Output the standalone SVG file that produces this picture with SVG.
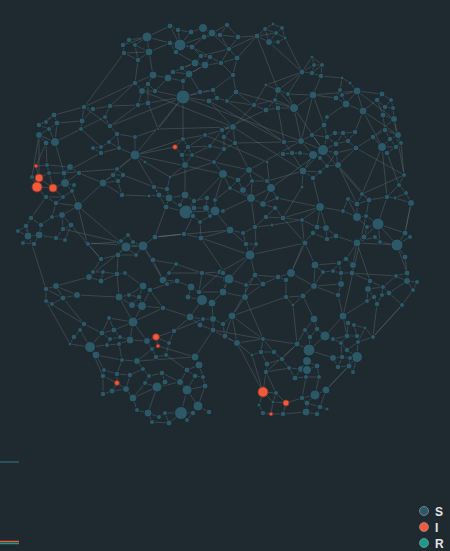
<svg xmlns="http://www.w3.org/2000/svg" width="450" height="551" viewBox="0 0 450 551">
<style>
.bg{fill:#1f2a30}
.e{fill:none;stroke:#6a757b;stroke-opacity:.55;stroke-width:.7}
.n circle{fill:#2d5868;stroke:#17232a;stroke-width:.8}
.n circle.i{fill:#f25a3b;stroke:#8c3526}
.lg{font-family:"Liberation Sans",Arial,sans-serif;font-size:12px;font-weight:bold;fill:#e6e6e6}
</style>
<rect class="bg" x="0" y="0" width="450" height="551"/>
<g id="connectors">
<path class="e" d="M147 37L149 52M147 37L123 45M147 37L129 40M147 37L135 45M149 52L124 53M149 52L138 60M149 52L135 45M123 45L129 40M123 45L124 53M124 53L138 60M135 45L129 40M138 60L135 45M147 37L170 43M149 52L170 43M149 52L153 75M138 60L135 83M147 37L170 26
M180 45L170 26M180 45L170 43M180 45L178 30M180 45L191 32M180 45L192 47M180 45L176 52M180 45L204 37M178 30L170 26M178 30L191 32M191 32L203 28M203 28L204 37M203 28L212 33M212 33L220 35M220 35L227 25M212 33L227 25M204 37L212 33M204 37L192 47M192 47L201 56M201 56L210 57M210 57L205 65M195 63L205 65M195 63L201 56M195 63L176 52M205 65L221 63M221 63L229 49M229 49L237 58M237 58L221 63M229 49L220 35M238 37L229 49M238 37L227 25M238 37L220 35M212 33L229 49M192 47L210 57M176 52L170 43M195 63L182 68M205 65L189 74M221 63L233 75M237 58L233 75M201 56L229 49M170 43L192 47M210 57L221 63M204 37L220 35
M257 36L265 29M257 36L269 42M265 29L273 24M265 29L276 33M273 24L282 28M276 33L282 28M282 28L285 38M276 33L269 42M269 42L278 42M278 42L285 38M276 33L285 38M265 29L269 42M257 36L276 33M238 37L257 36M237 58L257 36M269 42L302 72M257 36L229 49
M182 68L173 72M182 68L189 74M173 72L168 78M168 78L153 75M153 75L135 83M153 75L148 84M148 84L142 91M142 91L135 83M142 91L155 91M155 91L148 84M168 78L183 81M183 81L189 74M173 72L189 74M168 78L155 91M182 68L195 63M189 74L205 65M183 81L183 97M155 91L183 97M142 91L138 105M135 83L110 106M148 84L148 103
M183 97L200 92M183 97L209 101M183 97L213 90M200 92L213 90M209 101L217 98M213 90L217 98M217 98L227 101M227 101L236 92M236 92L233 75M213 90L233 75M200 92L189 74M236 92L253 105M227 101L253 105M209 101L233 127M183 97L148 103M183 97L135 155M183 97L158 129M183 97L183 139
M302 72L312 57M302 72L314 65M302 72L312 73M312 57L314 65M314 65L322 65M322 65L321 76M312 73L321 76M314 65L312 73M312 57L322 65M322 65L312 73M302 72L288 94M302 72L278 90M321 76L342 78M321 76L313 95M302 72L285 38M302 72L266 85
M266 85L278 90M278 90L288 94M288 94L313 95M278 90L275 100M275 100L294 108M294 108L288 94M294 108L278 108M278 108L266 110M266 110L254 105M254 105L275 100M266 85L254 105M313 95L294 108M278 90L294 108M275 100L266 110M278 108L275 100M294 108L301 141M313 95L301 141M313 95L336 98M294 108L323 150M254 105L233 127M266 110L222 130M278 108L284 142
M342 78L350 83M350 83L357 91M342 78L340 90M340 90L336 98M336 98L346 104M346 104L342 95M342 95L340 90M342 95L357 91M357 91L363 111M346 104L363 111M336 98L342 95M357 91L346 104M357 91L382 94M363 111L377 100M363 111L382 147M346 104L327 117M363 111L355 132M357 91L394 119
M382 94L377 100M382 94L391 100M377 100L385 107M391 100L393 108M385 107L393 108M385 107L383 115M383 115L394 119M393 108L394 119M391 100L385 107M377 100L383 115M394 119L404 175M394 119L398 135M383 115L385 130M394 119L373 137
M327 117L324 125M324 125L312 135M312 135L301 141M301 141L284 142M301 141L313 155M313 155L323 150M323 150L336 144M323 150L336 153M323 150L327 137M327 137L335 133M335 133L343 133M343 133L348 141M348 141L355 132M348 141L356 148M356 148L336 153M336 144L348 141M336 144L327 137M324 125L327 137M312 135L323 150M292 153L300 153M300 153L313 155M283 154L292 153M284 142L292 153M313 155L320 158M320 158L327 166M327 166L338 165M338 165L336 153M320 158L323 150M303 171L313 155M303 171L320 172M320 172L313 178M313 178L303 171M303 171L302 187M320 172L327 166M343 133L336 144M355 132L343 133M301 141L323 150M312 135L327 137M336 153L327 166M283 154L300 153M338 165L356 148M303 171L292 153M323 150L303 171
M373 137L385 130M385 130L390 139M390 139L398 135M398 135L401 143M401 143L396 147M396 147L387 153M387 153L382 147M382 147L373 137M382 147L390 139M390 139L396 147M385 130L398 135M382 147L396 147M356 148L373 137M401 143L404 175M387 153L399 185M382 147L362 194
M233 127L222 130M222 130L224 137M224 137L235 143M235 143L224 149M224 149L210 146M233 127L224 137M233 127L235 143M224 137L224 149M210 146L222 130M235 143L284 142M233 127L205 135M224 149L214 162M210 146L188 147M235 143L249 170
M214 162L223 174M223 174L238 180M238 180L249 170M249 170L252 181M252 181L243 190M243 190L238 180M243 190L251 198M251 198L230 188M230 188L223 174M230 188L238 180M252 181L267 181M267 181L271 188M271 188L277 198M277 198L263 204M263 204L251 198M263 204L275 208M275 208L266 217M266 217L283 218M283 218L275 208M271 188L263 204M215 211L223 211M215 211L215 200M215 200L230 188M223 211L251 198M223 174L215 200M252 181L251 198M271 188L251 198M214 162L249 170M267 181L303 171M271 188L323 150M283 218L320 207M215 211L186 212M223 174L186 212M277 198L320 207
M230 230L243 233M243 233L255 227M255 227L272 225M243 233L246 244M246 244L256 244M256 244L255 227M230 230L246 244M230 230L215 211M255 227L251 198M266 217L255 227M256 244L250 255M230 230L201 238M272 225L302 220
M302 220L317 227M317 227L326 228M326 228L336 236M336 236L327 239M327 239L313 233M313 233L304 242M304 242L302 220M313 233L317 227M320 207L317 227M320 207L326 228M320 207L302 220M327 239L326 228M304 242L305 243M336 236L357 243M320 207L343 211M302 220L283 218
M343 211L348 199M348 199L357 204M357 204L362 194M362 194L369 200M369 200L357 204M357 204L357 217M357 217L366 216M366 216L378 224M378 224L367 227M367 227L364 237M364 237L357 242M357 242L375 237M375 237L380 242M380 242L378 224M378 224L397 245M397 245L380 242M343 211L357 217M357 217L367 227M369 200L387 197M387 197L395 198M395 198L406 193M406 193L411 203M411 203L395 198M399 185L404 175M399 185L406 193M387 197L399 185M405 233L410 237M405 233L397 245M410 237L397 245M405 257L397 245M411 203L405 233M378 224L405 233M366 216L369 200M364 237L378 224M357 217L348 199M387 197L378 224M397 245L407 273M397 245L357 243
M84 107L93 109M54 115L46 122M46 122L39 125M39 125L49 129M49 129L57 123M57 123L54 115M54 115L39 125M49 129L39 135M39 135L46 143M46 143L55 142M55 142L49 129M55 142L57 123M39 135L55 142M82 121L81 129M82 121L57 123M81 129L55 142M84 107L82 121M93 109L82 121M54 115L84 107M93 109L110 106M81 129L105 117M39 135L39 178M55 142L64 173M46 143L47 165M84 107L110 126
M138 105L148 103M110 106L105 117M105 117L110 126M110 126L117 134M117 134L109 142M109 142L101 147M101 147L101 153M101 153L93 148M93 148L101 147M109 142L119 148M119 148L135 155M135 155L135 137M135 137L117 134M135 137L158 129M138 105L110 106M148 103L158 129M135 155L145 162M119 148L101 153M110 126L138 105M117 134L119 148M135 155L117 169M135 155L103 183M135 155L175 147M135 155L183 139M101 153L64 173M145 162L170 177M135 155L159 195M101 147L81 129
M175 147L183 139M183 139L188 147M188 147L182 155M182 155L175 147M182 155L192 155M192 155L188 147M182 155L185 165M185 165L192 155M205 135L188 147M205 135L183 139M210 146L192 155M185 165L170 177M185 165L185 195M214 162L192 155
M117 169L113 175M113 175L123 175M123 175L117 169M118 181L113 175M118 181L123 175M103 183L113 175M103 183L118 181M118 181L122 195M103 183L122 195M103 183L78 206M122 195L149 196M123 175L154 187M103 183L79 173
M170 177L167 189M167 189L154 187M154 187L159 195M159 195L169 198M169 198L167 189M149 196L159 195M169 198L166 207M166 207L159 195M169 198L185 195M185 195L194 201M194 201L207 198M185 195L180 205M180 205L186 212M186 212L194 208M194 208L206 208M206 208L207 198M186 212L193 216M193 216L200 222M200 222L210 216M210 216L206 208M194 208L193 216M186 212L166 207M184 234L193 216M201 238L200 222M184 234L201 238M155 237L166 207M186 212L169 198M194 201L186 212M215 211L210 216M206 208L215 211M184 234L155 237
M36 166L39 178M39 178L37 187M37 187L53 188M53 188L39 178M47 165L49 173M49 173L39 178M32 177L39 178M32 177L37 187M47 165L36 166M49 173L64 173M64 173L70 167M70 167L79 173M79 173L65 183M65 183L64 173M65 183L53 188M65 183L74 185M74 185L72 191M72 191L65 183M53 188L63 197M63 197L72 191M63 197L46 197M46 197L37 187M46 197L56 203M56 203L63 197M56 203L78 206M78 206L72 191M78 206L62 215M62 215L52 217M52 217L56 203M62 215L71 225M71 225L63 229M63 229L62 215M31 218L26 226M26 226L18 231M31 218L41 225M41 225L39 235M39 235L28 236M28 236L26 226M28 236L23 243M23 243L34 244M34 244L39 235M18 231L28 236M41 225L52 217M56 238L63 229M56 238L65 240M65 240L71 225M56 238L39 235M87 243L71 225M31 218L46 197M53 188L49 173M70 167L47 165M78 206L87 243M39 135L32 177M46 143L36 166
M143 246L126 247M126 247L119 242M119 242L121 241M121 241L128 235M128 235L133 242M133 242L143 246M133 242L126 247M126 247L118 255M118 255L136 255M136 255L143 246M143 246L153 260M88 244L101 259M101 259L118 255M119 242L88 244M155 237L143 246M136 255L126 247M153 260L176 264M143 246L163 280M126 247L89 277M118 255L117 274
M117 274L125 273M89 277L93 272M93 272L103 272M103 272L101 281M101 281L89 277M103 272L117 274M101 281L117 274M89 277L56 286M125 273L143 286M101 259L93 272M117 274L119 297
M56 286L46 289M46 289L46 301M46 301L52 304M52 304L63 298M63 298L56 286M56 286L77 295M77 295L63 298M46 289L63 298M77 295L119 297M63 298L84 324M26 226L46 289
M119 297L129 295M129 295L139 297M139 297L132 305M132 305L119 297M132 305L142 306M142 306L139 297M139 297L143 286M143 286L150 290M150 290L142 306M143 286L129 295M163 280L169 273M169 273L176 264M163 280L177 281M177 281L167 284M167 284L163 280M150 290L167 284M142 306L163 308M163 308L150 290M142 306L133 322M163 308L190 317M177 281L191 287M176 264L202 273
M191 287L188 297M188 297L202 300M202 300L212 303M212 303L223 292M223 292L227 279M227 279L220 272M220 272L202 273M202 273L199 292M199 292L191 287M199 292L202 300M199 292L223 292M220 272L199 292M227 279L229 279M202 300L190 317M212 303L213 319
M190 317L203 319M203 319L213 319M213 319L223 324M223 324L225 337M225 337L213 330M213 330L200 325M200 325L190 317M200 325L203 319M213 330L213 319M225 337L237 343M213 330L195 357M190 317L174 331M223 324L232 316
M133 322L114 330M114 330L102 333M102 333L109 318M109 318L114 330M84 324L80 330M80 330L74 337M74 337L70 344M70 344L90 347M90 347L96 355M90 347L102 333M84 324L102 333M102 333L110 339M110 339L107 345M107 345L90 347M114 330L120 337M120 337L110 339M120 337L130 340M130 340L119 344M119 344L107 345M130 340L133 322M130 340L147 341M147 341L156 337M156 337L158 346M158 346L152 349M152 349L147 341M156 337L169 343M169 343L166 355M166 355L156 357M156 357L152 349M174 331L169 343M174 331L156 337M137 361L122 360M137 361L152 349M122 360L119 344M96 355L122 360M133 322L147 341M133 322L109 318M80 330L90 347
M104 370L117 374M117 374L130 375M130 375L143 369M143 369L149 376M149 376L162 373M162 373L165 382M165 382L157 387M157 387L145 383M145 383L149 376M103 376L104 370M103 376L117 383M117 383L117 374M117 383L112 391M112 391L103 394M103 394L103 376M112 391L126 389M126 389L117 383M126 389L133 398M133 398L145 383M126 389L130 375M137 361L143 369M157 387L133 398M122 360L117 374M96 355L104 370
M195 357L199 365M199 365L187 370M187 370L195 376M195 376L203 377M203 377L199 365M195 376L187 390M187 390L180 382M180 382L187 370M187 390L205 386M205 386L203 377M198 406L209 412M198 406L187 390M198 406L193 413M193 413L181 413M181 413L187 420M187 420L193 413M181 413L169 423M169 423L165 413M165 413L159 417M159 417L148 413M148 413L152 422M152 422L169 423M137 410L148 413M133 398L137 410M148 413L157 387M165 413L181 413M181 413L187 390M198 406L205 386M162 373L180 382M166 355L187 370M157 387L180 382
M250 255L255 275M255 275L263 284M263 284L246 285M246 285L255 275M229 279L223 273M229 279L246 285M223 292L229 279M223 292L245 297M245 297L246 285M278 277L286 280M286 280L291 273M291 273L278 277M278 277L263 284M255 275L278 277M250 255L229 279M291 273L305 243M286 280L286 297M245 297L232 316M250 255L246 245M263 284L245 297M291 273L314 286M223 273L227 279
M305 243L315 265M315 265L323 272M323 272L333 271M333 271L341 273M341 273L352 273M352 273L353 265M353 265L346 259M346 259L339 263M339 263L333 271M339 263L341 273M357 243L353 265M357 243L346 259M315 265L339 263M315 265L314 286M352 273L370 281M341 273L341 284M357 243L364 237
M314 286L303 296M303 296L286 297M286 297L293 305M293 305L303 296M314 286L338 295M338 295L341 284M341 284L314 286M303 296L314 319M338 295L343 316M293 305L297 344M314 286L323 272
M370 281L368 289M368 289L374 297M374 297L367 301M367 301L368 289M374 297L377 304M377 304L382 295M382 295L389 293M389 293L383 287M383 287L370 281M383 287L382 295M368 289L383 287M396 276L407 273M407 273L407 281M407 281L417 282M417 282L413 290M413 290L407 281M396 276L407 281M389 293L407 281M402 305L413 290M402 305L389 293M402 305L373 337M377 304L373 337M367 301L343 316M396 276L383 287M405 257L407 273
M232 316L225 336M225 336L237 343M237 343L232 316M263 339L261 352M261 352L252 355M252 355L237 343M261 352L274 352M274 352L263 339M267 364L261 352M267 364L282 359M282 359L274 352M267 364L266 372M266 372L289 368M289 368L282 359M289 368L301 369M301 369L295 378M295 378L289 368M301 369L307 370M307 370L306 377M306 377L295 378M307 370L317 366M317 366L319 377M319 377L306 377M307 361L307 370M307 361L301 369M307 361L309 350M309 350L297 344M297 344L282 359M309 350L310 337M310 337L305 330M305 330L297 344M309 350L325 336M325 336L317 329M317 329L314 319M314 319L305 330M317 329L310 337M325 336L333 339M307 361L317 366M263 339L297 344M237 343L263 339M232 316L263 339M309 350L333 358M266 372L263 392
M333 339L341 343M341 343L347 336M347 336L333 339M343 316L348 323M348 323L354 325M354 325L357 336M357 336L347 336M348 323L347 336M343 316L347 336M357 336L358 342M358 342L365 328M365 328L354 325M358 342L373 337M373 337L365 328M341 343L347 350M347 350L357 357M357 357L350 358M350 358L342 357M342 357L333 358M333 358L338 367M338 367L349 366M349 366L353 372M353 372L357 357M349 366L350 358M338 367L342 357M347 350L358 342M357 357L358 342M341 343L342 357M325 336L343 316
M263 392L276 393M276 393L273 402M273 402L263 392M263 392L259 405M259 405L263 413M263 413L271 414M271 414L283 414M283 414L286 403M286 403L273 402M286 403L276 393M271 414L273 402M286 403L302 398M302 398L307 403M307 403L306 412M306 412L317 414M317 414L320 407M320 407L327 409M320 407L307 403M302 398L315 395M315 395L326 390M326 390L320 407M315 395L307 403M306 412L283 414M263 392L237 343M276 393L266 372M302 398L306 377M315 395L319 377M326 390L349 366M326 390L357 357M263 392L252 355
M183 97L301 141M209 101L284 142M233 127L303 171M135 155L223 174M158 129L233 127M110 126L183 97M64 173L117 169M78 206L126 247M87 243L101 259M155 237L230 230M201 238L250 255M249 170L267 181M267 162L270 187M313 178L320 207M302 187L283 218M338 165L357 204M362 194L404 175M357 243L370 281M286 297L232 316M255 275L232 316M245 297L263 339M297 344L266 372M213 330L263 339M174 331L203 319M137 361L195 357M158 346L195 357M133 322L163 308M90 347L103 376M70 344L46 301M119 297L133 322M153 260L163 280M220 272L250 255M229 279L201 238M135 83L84 107M124 53L84 107M257 36L278 90M313 95L357 91M324 125L313 95M363 111L398 135M382 147L387 197M323 150L362 194M338 165L369 200M301 141L249 170M227 101L284 142M236 92L294 108M142 91L233 127M205 135L267 162M63 229L119 242M46 301L84 324M170 177L214 162M184 234L155 237M87 243L143 246M202 273L229 279M169 273L202 273M356 148L404 175M366 216L343 316M283 218L305 243M250 255L305 243M304 242L291 273M373 337L402 305M352 273L396 276M411 203L405 233"/>
</g>
<g id="nodes" class="n">
<g id="c1"><circle cx="147" cy="37" r="5"/><circle cx="149" cy="52" r="4"/><circle cx="123" cy="45" r="2.8"/><circle cx="129" cy="40" r="2.8"/><circle cx="124" cy="53" r="2.8"/><circle cx="138" cy="60" r="2.8"/><circle cx="135" cy="45" r="2.5"/></g>
<g id="c2"><circle cx="170" cy="26" r="3"/><circle cx="180" cy="45" r="6"/><circle cx="170" cy="43" r="2.8"/><circle cx="178" cy="30" r="2.8"/><circle cx="191" cy="32" r="3"/><circle cx="203" cy="28" r="4.5"/><circle cx="204" cy="37" r="3"/><circle cx="212" cy="33" r="4"/><circle cx="220" cy="35" r="2.8"/><circle cx="227" cy="25" r="2.8"/><circle cx="192" cy="47" r="3"/><circle cx="176" cy="52" r="2.8"/><circle cx="201" cy="56" r="2.8"/><circle cx="210" cy="57" r="2.8"/><circle cx="195" cy="63" r="4"/><circle cx="205" cy="65" r="4"/><circle cx="221" cy="63" r="2.8"/><circle cx="229" cy="49" r="2.8"/><circle cx="237" cy="58" r="3"/><circle cx="238" cy="37" r="3"/></g>
<g id="c3"><circle cx="257" cy="36" r="3"/><circle cx="265" cy="29" r="2.5"/><circle cx="273" cy="24" r="2"/><circle cx="276" cy="33" r="2.5"/><circle cx="282" cy="28" r="2.5"/><circle cx="285" cy="38" r="2"/><circle cx="269" cy="42" r="3.5"/><circle cx="278" cy="42" r="2.5"/></g>
<g id="c4"><circle cx="182" cy="68" r="2.8"/><circle cx="173" cy="72" r="2.8"/><circle cx="189" cy="74" r="4"/><circle cx="153" cy="75" r="4"/><circle cx="168" cy="78" r="4"/><circle cx="183" cy="81" r="2.8"/><circle cx="135" cy="83" r="2.8"/><circle cx="148" cy="84" r="2.8"/><circle cx="142" cy="91" r="3.5"/><circle cx="155" cy="91" r="2.8"/></g>
<g id="c5"><circle cx="183" cy="97" r="7"/><circle cx="200" cy="92" r="2.8"/><circle cx="209" cy="101" r="3"/><circle cx="213" cy="90" r="2.8"/><circle cx="217" cy="98" r="2.8"/><circle cx="227" cy="101" r="2.5"/><circle cx="236" cy="92" r="3"/><circle cx="233" cy="75" r="2.8"/></g>
<g id="c6"><circle cx="302" cy="72" r="3"/><circle cx="312" cy="57" r="2"/><circle cx="314" cy="65" r="2.5"/><circle cx="322" cy="65" r="2.5"/><circle cx="312" cy="73" r="2.8"/><circle cx="321" cy="76" r="2.8"/></g>
<g id="c7"><circle cx="266" cy="85" r="2"/><circle cx="278" cy="90" r="3.5"/><circle cx="288" cy="94" r="2.5"/><circle cx="313" cy="95" r="4"/><circle cx="275" cy="100" r="2.5"/><circle cx="294" cy="108" r="4.5"/><circle cx="254" cy="105" r="2.8"/><circle cx="266" cy="110" r="3"/><circle cx="278" cy="108" r="3"/></g>
<g id="c8"><circle cx="342" cy="78" r="2"/><circle cx="350" cy="83" r="2"/><circle cx="357" cy="91" r="4"/><circle cx="340" cy="90" r="2.5"/><circle cx="336" cy="98" r="3"/><circle cx="346" cy="104" r="4"/><circle cx="342" cy="95" r="2.5"/><circle cx="363" cy="111" r="4"/></g>
<g id="c9"><circle cx="382" cy="94" r="3"/><circle cx="377" cy="100" r="2.8"/><circle cx="391" cy="100" r="2.5"/><circle cx="393" cy="108" r="2.5"/><circle cx="385" cy="107" r="2.8"/><circle cx="383" cy="115" r="3"/><circle cx="394" cy="119" r="3.5"/></g>
<g id="c10"><circle cx="327" cy="117" r="2.5"/><circle cx="324" cy="125" r="3"/><circle cx="312" cy="135" r="2.8"/><circle cx="301" cy="141" r="3.5"/><circle cx="284" cy="142" r="2.8"/><circle cx="323" cy="150" r="5.5"/><circle cx="313" cy="155" r="4.5"/><circle cx="336" cy="144" r="3"/><circle cx="336" cy="153" r="3"/><circle cx="327" cy="137" r="2.8"/><circle cx="335" cy="133" r="2.8"/><circle cx="343" cy="133" r="2.8"/><circle cx="348" cy="141" r="2.8"/><circle cx="355" cy="132" r="2.8"/><circle cx="356" cy="148" r="3"/><circle cx="292" cy="153" r="2.8"/><circle cx="300" cy="153" r="2.5"/><circle cx="283" cy="154" r="2.8"/><circle cx="320" cy="158" r="2.5"/><circle cx="327" cy="166" r="2.5"/><circle cx="338" cy="165" r="3.5"/><circle cx="303" cy="171" r="4"/><circle cx="320" cy="172" r="2.5"/><circle cx="313" cy="178" r="2.8"/><circle cx="302" cy="187" r="2"/></g>
<g id="c11"><circle cx="373" cy="137" r="2.8"/><circle cx="385" cy="130" r="2.8"/><circle cx="390" cy="139" r="2.8"/><circle cx="398" cy="135" r="3.5"/><circle cx="382" cy="147" r="4.5"/><circle cx="387" cy="153" r="2.8"/><circle cx="396" cy="147" r="2.8"/><circle cx="401" cy="143" r="2.5"/></g>
<g id="c12"><circle cx="233" cy="127" r="3.5"/><circle cx="222" cy="130" r="2.8"/><circle cx="224" cy="137" r="2.8"/><circle cx="235" cy="143" r="2.8"/><circle cx="224" cy="149" r="2.8"/><circle cx="210" cy="146" r="2.5"/><circle cx="267" cy="162" r="2"/></g>
<g id="c13"><circle cx="214" cy="162" r="2.5"/><circle cx="223" cy="174" r="4.5"/><circle cx="238" cy="180" r="3"/><circle cx="249" cy="170" r="3.5"/><circle cx="243" cy="190" r="3.5"/><circle cx="251" cy="198" r="4.5"/><circle cx="230" cy="188" r="2.5"/><circle cx="252" cy="181" r="2.5"/><circle cx="271" cy="188" r="4.5"/><circle cx="267" cy="181" r="2.5"/><circle cx="277" cy="198" r="2.5"/><circle cx="263" cy="204" r="3.5"/><circle cx="275" cy="208" r="2.8"/><circle cx="266" cy="217" r="2.8"/><circle cx="283" cy="218" r="3"/><circle cx="215" cy="211" r="5"/><circle cx="223" cy="211" r="2.5"/><circle cx="215" cy="200" r="2.5"/></g>
<g id="c14"><circle cx="230" cy="230" r="4"/><circle cx="243" cy="233" r="2.5"/><circle cx="255" cy="227" r="2.8"/><circle cx="246" cy="244" r="2.8"/><circle cx="256" cy="244" r="2.5"/><circle cx="272" cy="225" r="2"/></g>
<g id="c15"><circle cx="302" cy="220" r="2.5"/><circle cx="304" cy="242" r="3"/><circle cx="313" cy="233" r="2.8"/><circle cx="317" cy="227" r="3"/><circle cx="326" cy="228" r="3.5"/><circle cx="336" cy="236" r="3"/><circle cx="327" cy="239" r="2.8"/><circle cx="320" cy="207" r="4.5"/></g>
<g id="c16"><circle cx="343" cy="211" r="2.5"/><circle cx="348" cy="199" r="2.5"/><circle cx="357" cy="204" r="3"/><circle cx="362" cy="194" r="2.5"/><circle cx="369" cy="200" r="3"/><circle cx="357" cy="217" r="4.5"/><circle cx="366" cy="216" r="2.5"/><circle cx="378" cy="224" r="6"/><circle cx="367" cy="227" r="2.5"/><circle cx="364" cy="237" r="3"/><circle cx="357" cy="242" r="4"/><circle cx="375" cy="237" r="2.5"/><circle cx="380" cy="242" r="2.5"/><circle cx="397" cy="245" r="6"/><circle cx="387" cy="197" r="2.8"/><circle cx="399" cy="185" r="2.5"/><circle cx="404" cy="175" r="2.5"/><circle cx="406" cy="193" r="2.5"/><circle cx="411" cy="203" r="3.5"/><circle cx="395" cy="198" r="2"/><circle cx="405" cy="233" r="3"/><circle cx="410" cy="237" r="2.5"/><circle cx="405" cy="257" r="3"/></g>
<g id="c17"><circle cx="84" cy="107" r="2.8"/><circle cx="93" cy="109" r="2.8"/><circle cx="54" cy="115" r="3"/><circle cx="39" cy="125" r="2.8"/><circle cx="46" cy="122" r="2.5"/><circle cx="57" cy="123" r="3"/><circle cx="49" cy="129" r="2.5"/><circle cx="39" cy="135" r="3.5"/><circle cx="46" cy="143" r="3"/><circle cx="55" cy="142" r="4.5"/><circle cx="82" cy="121" r="3"/><circle cx="81" cy="129" r="2.5"/></g>
<g id="c18"><circle cx="138" cy="105" r="2.8"/><circle cx="148" cy="103" r="3"/><circle cx="110" cy="106" r="2.8"/><circle cx="105" cy="117" r="2.5"/><circle cx="110" cy="126" r="2.8"/><circle cx="117" cy="134" r="2.8"/><circle cx="109" cy="142" r="2.5"/><circle cx="135" cy="137" r="2.5"/><circle cx="158" cy="129" r="1.5"/><circle cx="135" cy="155" r="5"/><circle cx="119" cy="148" r="2.5"/><circle cx="101" cy="147" r="2.5"/><circle cx="101" cy="153" r="2.8"/><circle cx="93" cy="148" r="2.5"/><circle cx="145" cy="162" r="2"/></g>
<g id="c19"><circle class="i" cx="175" cy="147" r="2.3"/><circle cx="183" cy="139" r="2.5"/><circle cx="188" cy="147" r="2.8"/><circle cx="182" cy="155" r="2.8"/><circle cx="192" cy="155" r="2.5"/><circle cx="185" cy="165" r="3.5"/><circle cx="205" cy="135" r="2.5"/></g>
<g id="c20"><circle cx="117" cy="169" r="2.5"/><circle cx="113" cy="175" r="2.8"/><circle cx="123" cy="175" r="2.8"/><circle cx="118" cy="181" r="2.8"/><circle cx="103" cy="183" r="4"/><circle cx="122" cy="195" r="2.8"/></g>
<g id="c21"><circle cx="170" cy="177" r="2"/><circle cx="154" cy="187" r="2.8"/><circle cx="159" cy="195" r="3"/><circle cx="169" cy="198" r="4"/><circle cx="167" cy="189" r="2.8"/><circle cx="149" cy="196" r="2"/><circle cx="166" cy="207" r="3"/><circle cx="185" cy="195" r="4"/><circle cx="194" cy="201" r="2.8"/><circle cx="207" cy="198" r="2.8"/><circle cx="186" cy="212" r="7"/><circle cx="180" cy="205" r="2.5"/><circle cx="194" cy="208" r="3"/><circle cx="206" cy="208" r="3.5"/><circle cx="193" cy="216" r="2.8"/><circle cx="200" cy="222" r="2.5"/><circle cx="210" cy="216" r="2.5"/><circle cx="184" cy="234" r="2.8"/><circle cx="201" cy="238" r="3"/><circle cx="155" cy="237" r="3"/></g>
<g id="c22"><circle cx="47" cy="165" r="2.5"/><circle cx="49" cy="173" r="2.5"/><circle cx="32" cy="177" r="2.5"/><circle cx="64" cy="173" r="3"/><circle cx="70" cy="167" r="3.5"/><circle cx="65" cy="183" r="4.5"/><circle cx="79" cy="173" r="2.8"/><circle cx="74" cy="185" r="2.5"/><circle cx="72" cy="191" r="2.5"/><circle cx="63" cy="197" r="2.5"/><circle cx="46" cy="197" r="2.8"/><circle cx="56" cy="203" r="2.8"/><circle cx="78" cy="206" r="4.5"/><circle cx="62" cy="215" r="3.5"/><circle cx="52" cy="217" r="2.5"/><circle cx="71" cy="225" r="3"/><circle cx="63" cy="229" r="2.8"/><circle cx="31" cy="218" r="2.8"/><circle cx="26" cy="226" r="2.8"/><circle cx="41" cy="225" r="2.8"/><circle cx="18" cy="231" r="2.5"/><circle cx="28" cy="236" r="4"/><circle cx="39" cy="235" r="4"/><circle cx="23" cy="243" r="2.5"/><circle cx="34" cy="244" r="2.8"/><circle cx="56" cy="238" r="2.8"/><circle cx="65" cy="240" r="2.5"/><circle cx="87" cy="243" r="2.8"/><circle class="i" cx="36" cy="166" r="1.8"/><circle class="i" cx="39" cy="178" r="4"/><circle class="i" cx="37" cy="187" r="5"/><circle class="i" cx="53" cy="188" r="4"/></g>
<g id="c23"><circle cx="143" cy="246" r="5"/><circle cx="126" cy="247" r="5"/><circle cx="119" cy="242" r="2.5"/><circle cx="128" cy="235" r="2.5"/><circle cx="133" cy="242" r="2.5"/><circle cx="121" cy="241" r="2.5"/><circle cx="118" cy="255" r="3"/><circle cx="136" cy="255" r="2.5"/><circle cx="101" cy="259" r="2.8"/><circle cx="153" cy="260" r="3"/><circle cx="88" cy="244" r="2.5"/></g>
<g id="c24"><circle cx="117" cy="274" r="3"/><circle cx="125" cy="273" r="2.5"/><circle cx="89" cy="277" r="3.5"/><circle cx="101" cy="281" r="3"/><circle cx="93" cy="272" r="2.5"/><circle cx="103" cy="272" r="2.5"/></g>
<g id="c25"><circle cx="56" cy="286" r="3.5"/><circle cx="46" cy="289" r="2.8"/><circle cx="63" cy="298" r="3"/><circle cx="46" cy="301" r="2.5"/><circle cx="52" cy="304" r="2.5"/><circle cx="77" cy="295" r="3.5"/></g>
<g id="c26"><circle cx="119" cy="297" r="4"/><circle cx="132" cy="305" r="3.5"/><circle cx="142" cy="306" r="4.5"/><circle cx="139" cy="297" r="2.8"/><circle cx="129" cy="295" r="2.5"/><circle cx="143" cy="286" r="4"/><circle cx="150" cy="290" r="2.8"/><circle cx="163" cy="280" r="4"/><circle cx="169" cy="273" r="2.5"/><circle cx="176" cy="264" r="2.5"/><circle cx="177" cy="281" r="3"/><circle cx="167" cy="284" r="2.5"/><circle cx="163" cy="308" r="2.8"/></g>
<g id="c27"><circle cx="191" cy="287" r="4"/><circle cx="188" cy="297" r="3"/><circle cx="202" cy="300" r="5.5"/><circle cx="212" cy="303" r="4"/><circle cx="199" cy="292" r="2.8"/><circle cx="202" cy="273" r="2.8"/><circle cx="220" cy="272" r="3"/><circle cx="223" cy="292" r="4"/><circle cx="227" cy="279" r="4.5"/></g>
<g id="c28"><circle cx="190" cy="317" r="4"/><circle cx="200" cy="325" r="3"/><circle cx="213" cy="319" r="3.5"/><circle cx="203" cy="319" r="2.5"/><circle cx="213" cy="330" r="3"/><circle cx="223" cy="324" r="2.8"/><circle cx="225" cy="337" r="3"/></g>
<g id="c29"><circle cx="133" cy="322" r="5"/><circle cx="109" cy="318" r="2.5"/><circle cx="84" cy="324" r="2.8"/><circle cx="80" cy="330" r="2.5"/><circle cx="74" cy="337" r="2.8"/><circle cx="70" cy="344" r="2"/><circle cx="90" cy="347" r="5.5"/><circle cx="96" cy="355" r="4"/><circle cx="102" cy="333" r="3"/><circle cx="114" cy="330" r="3"/><circle cx="120" cy="337" r="2.5"/><circle cx="110" cy="339" r="2.5"/><circle cx="107" cy="345" r="2.5"/><circle cx="130" cy="340" r="4"/><circle cx="119" cy="344" r="2.5"/><circle cx="147" cy="341" r="3.5"/><circle cx="152" cy="349" r="2.5"/><circle cx="169" cy="343" r="2.5"/><circle cx="166" cy="355" r="2.5"/><circle cx="156" cy="357" r="2.8"/><circle cx="174" cy="331" r="2.8"/><circle cx="137" cy="361" r="3.5"/><circle cx="122" cy="360" r="2.5"/><circle class="i" cx="156" cy="337" r="3.3"/><circle class="i" cx="158" cy="346" r="1.8"/></g>
<g id="c30"><circle cx="104" cy="370" r="2.5"/><circle cx="117" cy="374" r="2.8"/><circle cx="130" cy="375" r="2.8"/><circle cx="143" cy="369" r="2.5"/><circle cx="149" cy="376" r="2.5"/><circle cx="162" cy="373" r="2.8"/><circle cx="157" cy="387" r="5"/><circle cx="165" cy="382" r="3"/><circle cx="145" cy="383" r="2.5"/><circle cx="103" cy="376" r="2.8"/><circle cx="103" cy="394" r="2.8"/><circle cx="112" cy="391" r="3"/><circle cx="126" cy="389" r="3.5"/><circle cx="133" cy="398" r="4"/><circle class="i" cx="117" cy="383" r="2.4"/></g>
<g id="c31"><circle cx="195" cy="357" r="4"/><circle cx="199" cy="365" r="4"/><circle cx="187" cy="370" r="3"/><circle cx="195" cy="376" r="2.8"/><circle cx="203" cy="377" r="2.5"/><circle cx="180" cy="382" r="3.5"/><circle cx="187" cy="390" r="5"/><circle cx="205" cy="386" r="3"/><circle cx="198" cy="406" r="5"/><circle cx="209" cy="412" r="2.8"/><circle cx="181" cy="413" r="6.5"/><circle cx="193" cy="413" r="2.8"/><circle cx="187" cy="420" r="2.5"/><circle cx="148" cy="413" r="4"/><circle cx="159" cy="417" r="2.5"/><circle cx="165" cy="413" r="2.5"/><circle cx="169" cy="423" r="3"/><circle cx="152" cy="422" r="2.5"/><circle cx="137" cy="410" r="2.5"/></g>
<g id="c32"><circle cx="250" cy="255" r="5"/><circle cx="255" cy="275" r="3"/><circle cx="263" cy="284" r="3"/><circle cx="246" cy="285" r="2.5"/><circle cx="229" cy="279" r="5"/><circle cx="223" cy="273" r="2.8"/><circle cx="223" cy="292" r="4"/><circle cx="245" cy="297" r="3.5"/><circle cx="278" cy="277" r="3"/><circle cx="286" cy="280" r="2.8"/><circle cx="291" cy="273" r="4.5"/></g>
<g id="c33"><circle cx="305" cy="243" r="3"/><circle cx="357" cy="243" r="4"/><circle cx="315" cy="265" r="4"/><circle cx="339" cy="263" r="2.8"/><circle cx="346" cy="259" r="2.8"/><circle cx="353" cy="265" r="3.5"/><circle cx="352" cy="273" r="3"/><circle cx="341" cy="273" r="2.8"/><circle cx="333" cy="271" r="2.5"/><circle cx="323" cy="272" r="2.5"/></g>
<g id="c34"><circle cx="314" cy="286" r="3.5"/><circle cx="303" cy="296" r="3"/><circle cx="286" cy="297" r="2.8"/><circle cx="293" cy="305" r="2"/><circle cx="338" cy="295" r="2.8"/><circle cx="341" cy="284" r="3.5"/></g>
<g id="c35"><circle cx="370" cy="281" r="2.8"/><circle cx="368" cy="289" r="3.5"/><circle cx="374" cy="297" r="2.8"/><circle cx="367" cy="301" r="2.5"/><circle cx="377" cy="304" r="2.8"/><circle cx="383" cy="287" r="2.5"/><circle cx="389" cy="293" r="3"/><circle cx="382" cy="295" r="2.5"/><circle cx="396" cy="276" r="2.5"/><circle cx="407" cy="273" r="3"/><circle cx="407" cy="281" r="3.5"/><circle cx="417" cy="282" r="2.5"/><circle cx="413" cy="290" r="2.5"/><circle cx="402" cy="305" r="2.5"/></g>
<g id="c36"><circle cx="232" cy="316" r="4"/><circle cx="225" cy="336" r="3"/><circle cx="237" cy="343" r="3.5"/><circle cx="263" cy="339" r="2.5"/><circle cx="261" cy="352" r="2.8"/><circle cx="274" cy="352" r="2.8"/><circle cx="252" cy="355" r="2"/><circle cx="267" cy="364" r="3"/><circle cx="282" cy="359" r="2.8"/><circle cx="266" cy="372" r="2.8"/><circle cx="289" cy="368" r="2.5"/><circle cx="301" cy="369" r="3.5"/><circle cx="295" cy="378" r="3"/><circle cx="307" cy="370" r="4.5"/><circle cx="317" cy="366" r="3"/><circle cx="306" cy="377" r="2.5"/><circle cx="319" cy="377" r="2.5"/><circle cx="297" cy="344" r="3"/><circle cx="309" cy="350" r="6"/><circle cx="307" cy="361" r="4.5"/><circle cx="310" cy="337" r="2.8"/><circle cx="305" cy="330" r="2.5"/><circle cx="325" cy="336" r="5"/><circle cx="314" cy="319" r="4"/><circle cx="317" cy="329" r="2.8"/></g>
<g id="c37"><circle cx="333" cy="339" r="2.5"/><circle cx="341" cy="343" r="2.5"/><circle cx="333" cy="358" r="3.5"/><circle cx="342" cy="357" r="2.8"/><circle cx="338" cy="367" r="2.8"/><circle cx="349" cy="366" r="3"/><circle cx="353" cy="372" r="2.5"/><circle cx="343" cy="316" r="4"/><circle cx="347" cy="336" r="3"/><circle cx="348" cy="323" r="2.8"/><circle cx="354" cy="325" r="2.5"/><circle cx="357" cy="336" r="2.8"/><circle cx="358" cy="342" r="2.5"/><circle cx="365" cy="328" r="2"/><circle cx="373" cy="337" r="2.5"/><circle cx="347" cy="350" r="2.8"/><circle cx="357" cy="357" r="5.5"/><circle cx="350" cy="358" r="2.5"/></g>
<g id="c38"><circle cx="276" cy="393" r="2.5"/><circle cx="263" cy="413" r="2.8"/><circle cx="283" cy="414" r="2.8"/><circle cx="259" cy="405" r="2"/><circle cx="273" cy="402" r="2"/><circle cx="302" cy="398" r="2.8"/><circle cx="315" cy="395" r="5"/><circle cx="326" cy="390" r="4"/><circle cx="307" cy="403" r="3"/><circle cx="306" cy="412" r="4"/><circle cx="317" cy="414" r="2.8"/><circle cx="320" cy="407" r="2.8"/><circle cx="327" cy="409" r="2"/><circle class="i" cx="263" cy="392" r="5"/><circle class="i" cx="286" cy="403" r="3"/><circle class="i" cx="271" cy="414" r="1.8"/></g>
</g>
<g id="chart">
<line x1="0" y1="462" x2="19" y2="462" stroke="#2d5f70" stroke-width="1.5"/>
<line x1="0" y1="541.5" x2="19" y2="541.5" stroke="#f25a3b" stroke-width="1.5"/>
<line x1="0" y1="543.5" x2="19" y2="543.5" stroke="#179c8a" stroke-width="1.5"/>
</g>
<g id="legend">
<circle cx="424" cy="511" r="4.5" fill="#2d5868" stroke="#a0a8ab" stroke-width=".6"/>
<circle cx="424" cy="527" r="4.5" fill="#f25a3b" stroke="#a0a8ab" stroke-width=".6"/>
<circle cx="424" cy="543" r="4.5" fill="#179c8a" stroke="#a0a8ab" stroke-width=".6"/>
<text class="lg" x="435" y="515.5">S</text>
<text class="lg" x="435" y="531.5">I</text>
<text class="lg" x="435" y="547.5">R</text>
</g>
</svg>
